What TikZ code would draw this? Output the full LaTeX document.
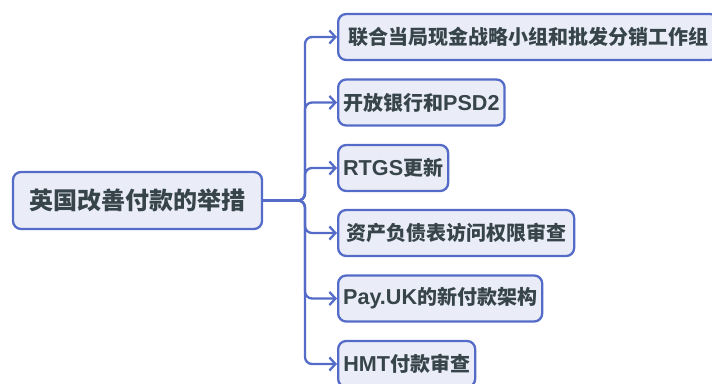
\documentclass[tikz,border=0pt]{standalone}
\usepackage{fontspec}
\setmainfont{Liberation Sans}[Scale=1.08]
\newfontfamily\cjk{Noto Sans CJK SC}
\usetikzlibrary{arrows.meta}
\definecolor{bord}{RGB}{84,108,200}
\definecolor{fillc}{RGB}{234,237,248}
\definecolor{txt}{RGB}{55,68,74}
\tikzset{
  box/.style={draw=bord, fill=fillc, line width=2.3pt, rounded corners=8pt,
    text=txt, font=\bfseries\fontsize{20}{24}\selectfont, minimum height=46pt,
    inner xsep=5pt, anchor=west},
  rootbox/.style={box, font=\bfseries\fontsize{24}{28}\selectfont, minimum height=57pt, anchor=center},
  conn/.style={draw=bord, line width=2.3pt, rounded corners=7pt,
    -{Straight Barb[length=6pt,width=13pt,line width=2.3pt]}},
}
\begin{document}
\begin{tikzpicture}[x=1pt,y=-1pt]
\useasboundingbox (0,0) rectangle (712,383);
\begin{scope}
\clip (0,0) rectangle (712,383);
\node[rootbox, minimum width=249pt] (root) at (137.5,200.5) {\cjk 英国改善付款的举措};
\node[box, minimum width=380pt] (c1) at (337,37) {\cjk 联合当局现金战略小组和批发分销工作组};
\node[box, minimum width=165pt] (c2) at (337,102.5) {{\cjk 开放银行和}PSD2};
\node[box, minimum width=109pt] (c3) at (337,168) {RTGS{\cjk 更新}};
\node[box, minimum width=236pt] (c4) at (337,233) {\cjk 资产负债表访问权限审查};
\node[box, minimum width=204pt] (c5) at (337,298.5) {Pay.UK{\cjk 的新付款架构}};
\node[box, minimum width=137pt] (c6) at (337,364) {HMT{\cjk 付款审查}};
\coordinate (tr) at (305,200.5);
\foreach \c in {c1,c2,c3,c4,c5,c6}{
  \draw[conn] (root.east) -- (tr) |- (\c.west);
}
\end{scope}
\end{tikzpicture}
\end{document}
